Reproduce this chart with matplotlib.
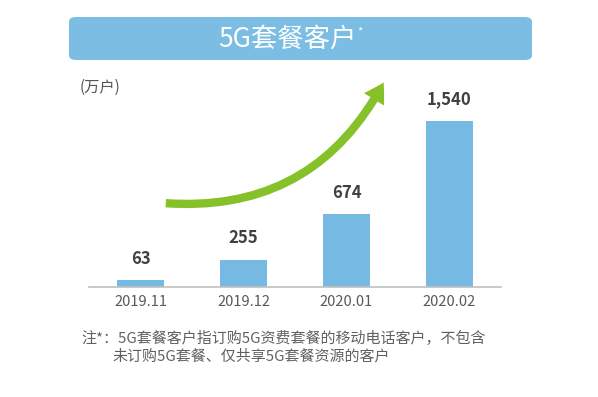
import matplotlib
matplotlib.use("Agg")
import matplotlib.pyplot as plt
import numpy as np
from matplotlib.patches import FancyBboxPatch, FancyArrowPatch

plt.rcParams['font.family'] = ['Noto Sans CJK SC', 'DejaVu Sans']

# data
months = ["2019.11", "2019.12", "2020.01", "2020.02"]
users = [63, 255, 674, 1540]
value_labels = ["63", "255", "674", "1,540"]

title = "5G套餐客户"
unit = "(万户)"
note_1 = "注*：5G套餐客户指订购5G资费套餐的移动电话客户，不包含"
note_2 = "未订购5G套餐、仅共享5G套餐资源的客户"

BAR_COLOR = "#76b9e2"
GREEN = "#86c129"

W, H = 598, 397
fig = plt.figure(figsize=(W / 100, H / 100), dpi=100)

ax = fig.add_axes([89 / W, 110 / H, 412 / W, 226.4 / H])
x = np.arange(len(months))
bars = ax.bar(x, users, width=0.46, color=BAR_COLOR)
ax.set_xlim(-0.5, 3.5)
ax.set_ylim(0, 2100)
for b, lab in zip(bars, value_labels):
    ax.annotate(lab, (b.get_x() + b.get_width() / 2, b.get_height()),
                xytext=(0, 9), textcoords="offset points", ha="center", va="bottom",
                fontsize=12, fontweight="bold", color="#404040")
ax.set_xticks(x)
ax.set_xticklabels(months, fontsize=10.5, color="#595959")
ax.tick_params(axis="x", length=0, pad=6)
ax.set_yticks([])
for s in ["top", "right", "left"]:
    ax.spines[s].set_visible(False)
ax.spines["bottom"].set_color("#c0c0c0")
ax.spines["bottom"].set_linewidth(1.2)

# title banner
box = FancyBboxPatch((69 / W, 1 - 60 / H), 463 / W, 43 / H,
                     boxstyle="round,pad=0,rounding_size=0.012",
                     transform=fig.transFigure, facecolor="#7bbde3", edgecolor="none")
fig.patches.append(box)
fig.text(287 / W, 1 - 39 / H, title, ha="center", va="center", fontsize=19, color="white")
fig.text(357 / W, 1 - 32 / H, "*", ha="left", va="center", fontsize=8, color="white")

fig.text(80 / W, 1 - 87 / H, unit, ha="left", va="center", fontsize=11, color="#555555")

# growth arrow
arrow = FancyArrowPatch((163 / W, 1 - 203 / H), (385 / W, 1 - 80 / H),
                        transform=fig.transFigure,
                        connectionstyle="arc3,rad=0.33",
                        arrowstyle="simple,head_width=17,head_length=14,tail_width=6",
                        color=GREEN, linewidth=0)
fig.patches.append(arrow)

fig.text(81 / W, 1 - 338 / H, note_1, ha="left", va="center", fontsize=10.8, color="#606060")
fig.text(112 / W, 1 - 356 / H, note_2, ha="left", va="center", fontsize=10.8, color="#606060")

fig.savefig("out.png", dpi=100)
